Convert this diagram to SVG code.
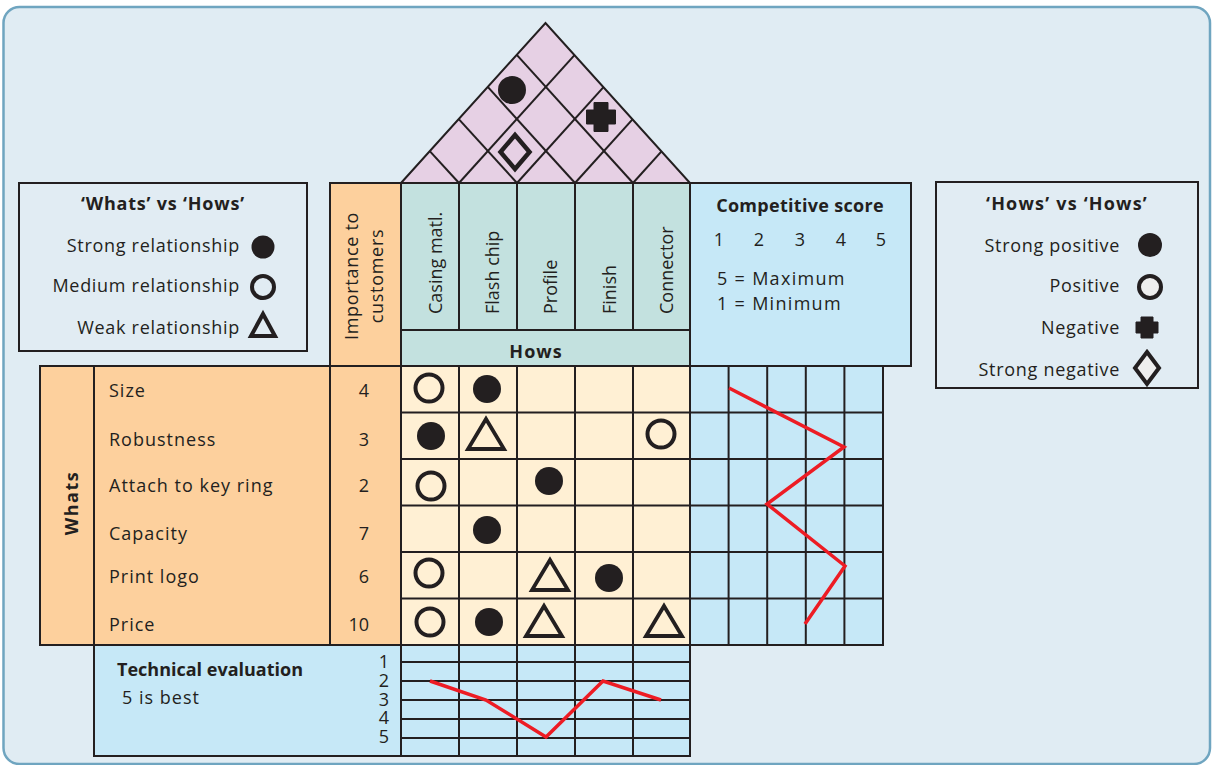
<svg xmlns="http://www.w3.org/2000/svg" width="1213" height="765" viewBox="0 0 1213 765">
<style>
.t{font-family:"Open Sans","Liberation Sans",sans-serif;font-size:18px;fill:#231f20}
.b{font-weight:bold}
.s{letter-spacing:0.7px}
.s1{letter-spacing:1px}
.ln{stroke:#231f20;stroke-width:2;fill:none}
.box{stroke:#231f20;stroke-width:2}
.red{stroke:#ed1c24;stroke-width:3.5;fill:none;stroke-linejoin:miter}
</style>
<defs>
<circle id="strong" r="14" fill="#231f20"/>
<circle id="medium" r="13.5" fill="none" stroke="#231f20" stroke-width="4"/>
<polygon id="weak" points="0,-15 18,15 -18,15" fill="none" stroke="#231f20" stroke-width="3.8"/>
<path id="cross" d="M-7,-14.5 H7 V-7 H14.5 V7 H7 V14.5 H-7 V7 H-14.5 V-7 H-7 Z" fill="#231f20" stroke="#231f20" stroke-width="1" stroke-linejoin="round"/>
<polygon id="diamond" points="0,-17 14.5,0 0,17 -14.5,0" fill="none" stroke="#231f20" stroke-width="4.5"/>
</defs>

<g id="frame">
<rect x="3.5" y="7" width="1206.5" height="757" rx="16" fill="#e0ecf3" stroke="#6fa5c0" stroke-width="2.5"/>
</g>

<g id="roof">
<polygon points="401,183 545.5,23 690,183" fill="#e6d0e4" stroke="#231f20" stroke-width="2" stroke-linejoin="miter"/>
<g class="ln">
<line x1="459" y1="183" x2="574.5" y2="55.1"/>
<line x1="517" y1="183" x2="603.5" y2="87.2"/>
<line x1="575" y1="183" x2="632.5" y2="119.3"/>
<line x1="633" y1="183" x2="661.5" y2="151.4"/>
<line x1="459" y1="183" x2="430" y2="151.4"/>
<line x1="517" y1="183" x2="459" y2="119.3"/>
<line x1="575" y1="183" x2="488" y2="87.2"/>
<line x1="633" y1="183" x2="517" y2="55.1"/>
</g>
<use href="#strong" x="512" y="90"/>
<use href="#cross" x="601" y="117"/>
<use href="#diamond" x="515" y="152"/>
</g>

<g id="legend-whats-hows">
<rect x="19" y="183" width="288" height="168" fill="#e1ecf3" class="box"/>
<text class="t b" x="163" y="210" text-anchor="middle" font-size="19" letter-spacing="0.8">‘Whats’ vs ‘Hows’</text>
<text class="t s" x="240" y="252" text-anchor="end">Strong relationship</text>
<text class="t s" x="240" y="292" text-anchor="end">Medium relationship</text>
<text class="t s" x="240" y="334" text-anchor="end">Weak relationship</text>
<circle cx="263" cy="247" r="11.5" fill="#231f20"/>
<circle cx="263" cy="287" r="11" fill="none" stroke="#231f20" stroke-width="4"/>
<polygon points="263,314 275,336 251,336" fill="none" stroke="#231f20" stroke-width="4"/>
</g>

<g id="legend-hows-hows">
<rect x="936" y="182" width="262" height="206" fill="#e1ecf3" class="box"/>
<text class="t b" x="1067" y="210" text-anchor="middle" font-size="19" letter-spacing="1.2">‘Hows’ vs ‘Hows’</text>
<text class="t s" x="1120" y="252" text-anchor="end">Strong positive</text>
<text class="t s" x="1120" y="292" text-anchor="end">Positive</text>
<text class="t s" x="1120" y="334" text-anchor="end">Negative</text>
<text class="t s" x="1120" y="376" text-anchor="end">Strong negative</text>
<circle cx="1150" cy="245" r="12" fill="#231f20"/>
<circle cx="1150" cy="287" r="11" fill="#eeeeee" stroke="#231f20" stroke-width="4"/>
<path d="M1141,317 H1153 V322 H1158 V333 H1153 V338 H1141 V333 H1136 V322 H1141 Z" fill="#231f20" stroke="#231f20" stroke-linejoin="round"/>
<polygon points="1147,352 1159,368 1147,384 1135,368" fill="#eeeeee" stroke="#231f20" stroke-width="4"/>
</g>

<g id="importance-header">
<rect x="330" y="183" width="71" height="183" fill="#fdd09d" class="box"/>
<text class="t s" transform="translate(358,276) rotate(-90)" text-anchor="middle">Importance to</text>
<text class="t s" transform="translate(383,276) rotate(-90)" text-anchor="middle">customers</text>
</g>

<g id="hows-header">
<rect x="401" y="183" width="289" height="183" fill="#c3e1df" class="box"/>
<g class="ln">
<line x1="459" y1="183" x2="459" y2="330"/>
<line x1="517" y1="183" x2="517" y2="330"/>
<line x1="575" y1="183" x2="575" y2="330"/>
<line x1="633" y1="183" x2="633" y2="330"/>
<line x1="401" y1="330" x2="690" y2="330"/>
</g>
<text class="t" transform="translate(442,314) rotate(-90)">Casing matl.</text>
<text class="t" transform="translate(499,314) rotate(-90)">Flash chip</text>
<text class="t" transform="translate(557,314) rotate(-90)">Profile</text>
<text class="t" transform="translate(616,314) rotate(-90)">Finish</text>
<text class="t" transform="translate(673,314) rotate(-90)">Connector</text>
<text class="t b s1" x="536" y="358" text-anchor="middle">Hows</text>
</g>

<g id="competitive-score">
<rect x="690" y="183" width="221" height="183" fill="#c6e8f7" class="box"/>
<text class="t b" x="800" y="212" text-anchor="middle" letter-spacing="0.3">Competitive score</text>
<text class="t" x="719" y="246" text-anchor="middle">1</text>
<text class="t" x="759" y="246" text-anchor="middle">2</text>
<text class="t" x="800" y="246" text-anchor="middle">3</text>
<text class="t" x="841" y="246" text-anchor="middle">4</text>
<text class="t" x="881" y="246" text-anchor="middle">5</text>
<text class="t" x="717" y="285" letter-spacing="1.3">5 = Maximum</text>
<text class="t" x="717" y="310" letter-spacing="1.3">1 = Minimum</text>
</g>

<g id="whats">
<rect x="40" y="366" width="361" height="279" fill="#fdd09d" class="box"/>
<g class="ln">
<line x1="94" y1="366" x2="94" y2="645"/>
<line x1="330" y1="366" x2="330" y2="645"/>
</g>
<text class="t b" transform="translate(78,503) rotate(-90)" text-anchor="middle" letter-spacing="1.5">Whats</text>
<text class="t s1" x="109" y="397">Size</text>
<text class="t s1" x="109" y="446">Robustness</text>
<text class="t s1" x="109" y="492">Attach to key ring</text>
<text class="t s1" x="109" y="540">Capacity</text>
<text class="t s1" x="109" y="583">Print logo</text>
<text class="t s1" x="109" y="631">Price</text>
<text class="t" x="369" y="397" text-anchor="end">4</text>
<text class="t" x="369" y="446" text-anchor="end">3</text>
<text class="t" x="369" y="492" text-anchor="end">2</text>
<text class="t" x="369" y="540" text-anchor="end">7</text>
<text class="t" x="369" y="583" text-anchor="end">6</text>
<text class="t" x="369" y="631" text-anchor="end">10</text>
</g>

<g id="matrix">
<rect x="401" y="366" width="289" height="279" fill="#fff0d4" class="box"/>
<g class="ln">
<line x1="459" y1="366" x2="459" y2="645"/>
<line x1="517" y1="366" x2="517" y2="645"/>
<line x1="575" y1="366" x2="575" y2="645"/>
<line x1="633" y1="366" x2="633" y2="645"/>
<line x1="401" y1="412.5" x2="690" y2="412.5"/>
<line x1="401" y1="459" x2="690" y2="459"/>
<line x1="401" y1="505.5" x2="690" y2="505.5"/>
<line x1="401" y1="552" x2="690" y2="552"/>
<line x1="401" y1="598.5" x2="690" y2="598.5"/>
</g>
<use href="#medium" x="429" y="388"/>
<use href="#strong" x="487" y="389"/>
<use href="#strong" x="431" y="436"/>
<use href="#weak" x="486" y="434"/>
<use href="#medium" x="661" y="434"/>
<use href="#medium" x="431" y="486"/>
<use href="#strong" x="549" y="481"/>
<use href="#strong" x="487" y="530"/>
<use href="#medium" x="429" y="573"/>
<use href="#weak" x="550" y="575"/>
<use href="#strong" x="609" y="578"/>
<use href="#medium" x="430" y="622"/>
<use href="#strong" x="489" y="622"/>
<use href="#weak" x="544" y="621"/>
<use href="#weak" x="664" y="621"/>
</g>

<g id="competitive-grid">
<rect x="690" y="366" width="193" height="279" fill="#c6e8f7" class="box"/>
<g class="ln">
<line x1="728.6" y1="366" x2="728.6" y2="645"/>
<line x1="767.2" y1="366" x2="767.2" y2="645"/>
<line x1="805.8" y1="366" x2="805.8" y2="645"/>
<line x1="844.4" y1="366" x2="844.4" y2="645"/>
<line x1="690" y1="412.5" x2="883" y2="412.5"/>
<line x1="690" y1="459" x2="883" y2="459"/>
<line x1="690" y1="505.5" x2="883" y2="505.5"/>
<line x1="690" y1="552" x2="883" y2="552"/>
<line x1="690" y1="598.5" x2="883" y2="598.5"/>
</g>
</g>

<g id="technical-evaluation">
<rect x="94" y="645" width="596" height="111" fill="#c6e8f7" class="box"/>
<g class="ln">
<line x1="401" y1="645" x2="401" y2="756"/>
<line x1="459" y1="645" x2="459" y2="756"/>
<line x1="517" y1="645" x2="517" y2="756"/>
<line x1="575" y1="645" x2="575" y2="756"/>
<line x1="633" y1="645" x2="633" y2="756"/>
<line x1="401" y1="662" x2="690" y2="662"/>
<line x1="401" y1="681" x2="690" y2="681"/>
<line x1="401" y1="700" x2="690" y2="700"/>
<line x1="401" y1="719" x2="690" y2="719"/>
<line x1="401" y1="738" x2="690" y2="738"/>
</g>
<text class="t b" x="117" y="676">Technical evaluation</text>
<text class="t s1" x="122" y="704">5 is best</text>
<text class="t" x="389" y="668" text-anchor="end">1</text>
<text class="t" x="389" y="687" text-anchor="end">2</text>
<text class="t" x="389" y="706" text-anchor="end">3</text>
<text class="t" x="389" y="724" text-anchor="end">4</text>
<text class="t" x="389" y="743" text-anchor="end">5</text>
</g>

<g id="connectors">
<polyline class="red" points="729,388 844,447 767,504 845,566 805,624"/>
<polyline class="red" points="430,681 486,700 546,737 603,681 661,700"/>
</g>
</svg>
